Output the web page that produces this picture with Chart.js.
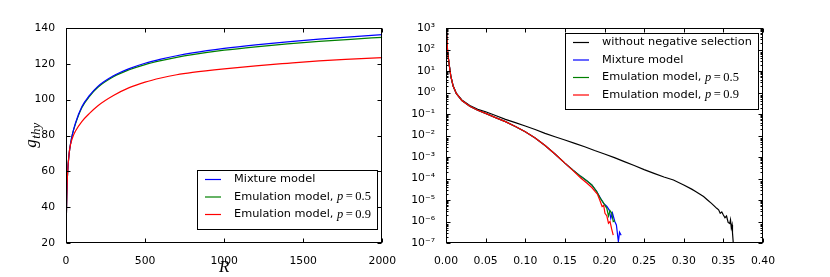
<!DOCTYPE html>
<html>
<head>
<meta charset="utf-8">
<script src="https://cdn.jsdelivr.net/npm/chart.js@4.4.1/dist/chart.umd.min.js"></script>
<style>
html, body { margin: 0; padding: 0; background: #fff; }
#wrap { position: relative; width: 830px; height: 277px; }
canvas { position: absolute; top: 0; }
</style>
</head>
<body>
<div id="wrap">
<canvas id="gChart" width="400" height="277" style="left:0"></canvas>
<canvas id="tailChart" width="430" height="277" style="left:400px"></canvas>
</div>
<script>
// left panel: g_thy against R
var rValues = [0, 5, 10, 20, 30, 40, 60, 100, 150, 200, 300, 400, 500, 600, 700, 800, 1000, 1200, 1400, 1600, 1800, 2000];
var gMixture = [25, 46, 59, 70, 76, 80.5, 87, 96, 102.5, 107.3, 113.3, 117.3, 120.3, 122.6, 124.5, 126.1, 128.6, 130.6, 132.3, 133.8, 135.1, 136.3];
var gEmul05 = [25, 46, 59, 70, 76, 80.5, 86.5, 95.5, 102, 106.8, 112.8, 116.7, 119.6, 121.8, 123.6, 125.1, 127.6, 129.5, 131.1, 132.5, 133.7, 134.8];
var gEmul09 = [25, 46, 59, 70, 75.5, 78.5, 82.5, 87.8, 92.5, 96.5, 102.3, 106.7, 109.8, 112.1, 113.9, 115.2, 117.2, 118.9, 120.3, 121.6, 122.6, 123.5];
var rTicks = [0, 500, 1000, 1500, 2000];
var gTicks = [20, 40, 60, 80, 100, 120, 140];

// right panel: tail distribution, log y
var headX = [0.0003, 0.002, 0.004, 0.006, 0.009, 0.013, 0.02, 0.03, 0.04, 0.05, 0.0625, 0.075, 0.0875, 0.10, 0.1125, 0.125, 0.1375, 0.15];
var headSel = [1500, 80, 20, 6, 2, 0.9, 0.42, 0.23, 0.15, 0.107, 0.068, 0.044, 0.026, 0.015, 0.0076, 0.0034, 0.00138, 0.00052];
var noNegX = [0.0003, 0.002, 0.004, 0.006, 0.009, 0.013, 0.02, 0.03, 0.04, 0.05, 0.0625, 0.075, 0.0875, 0.10, 0.1125, 0.125, 0.1375, 0.15, 0.1625, 0.175, 0.1875, 0.20, 0.2125, 0.225, 0.2375, 0.25, 0.2625, 0.275, 0.287, 0.30, 0.31, 0.315, 0.32, 0.325, 0.33, 0.335, 0.338, 0.3416, 0.344, 0.346, 0.348, 0.350, 0.352, 0.354, 0.356, 0.358, 0.359, 0.360, 0.361, 0.3615, 0.3625, 0.3627];
var noNegY = [1500, 80, 20, 6, 2, 0.9, 0.45, 0.25, 0.165, 0.128, 0.085, 0.0565, 0.04, 0.0277, 0.019, 0.0126, 0.0088, 0.0062, 0.0043, 0.003, 0.002, 0.00138, 9.3e-4, 6.1e-4, 4e-4, 2.6e-4, 1.74e-4, 1.17e-4, 8.5e-5, 5e-5, 3.2e-5, 2.5e-5, 1.9e-5, 1.44e-5, 1e-5, 7e-6, 5.5e-6, 4.1e-6, 3.5e-6, 2.4e-6, 2.8e-6, 2e-6, 1.5e-6, 1.8e-6, 9e-7, 8e-7, 1.2e-6, 5e-7, 7e-7, 3e-7, 1e-7, 5e-8];
var mixTailX = [0.16, 0.17, 0.178, 0.184, 0.19, 0.195, 0.199, 0.203, 0.206, 0.208, 0.210, 0.213, 0.215, 0.2175, 0.219, 0.221];
var mixTailY = [2.5e-4, 1.26e-4, 7.6e-5, 5e-5, 2.5e-5, 1.2e-5, 7e-6, 5e-6, 3.4e-6, 1.4e-6, 2.5e-6, 1e-6, 6.9e-7, 1.15e-7, 3.2e-7, 2.3e-7];
var em05TailX = [0.16, 0.17, 0.178, 0.184, 0.19, 0.195, 0.199, 0.203, 0.205, 0.207, 0.209, 0.211, 0.213];
var em05TailY = [2.5e-4, 1.26e-4, 7.6e-5, 5e-5, 2.5e-5, 1.15e-5, 7e-6, 4e-6, 1.8e-6, 3.2e-6, 2.5e-6, 1e-6, 1.1e-6];
var em09TailX = [0.16, 0.17, 0.178, 0.184, 0.188, 0.191, 0.194, 0.197, 0.199, 0.2006, 0.203, 0.205, 0.207, 0.209, 0.211];
var em09TailY = [2.4e-4, 1.05e-4, 6e-5, 3.8e-5, 2.5e-5, 1.9e-5, 1e-5, 5e-6, 5.6e-6, 2.4e-6, 1.8e-6, 8.3e-7, 1e-6, 4.5e-7, 2.3e-7];
var shareTicks = [0, 0.05, 0.10, 0.15, 0.20, 0.25, 0.30, 0.35, 0.40];
var decadeExps = [-7, -6, -5, -4, -3, -2, -1, 0, 1, 2, 3];

var tickFont = { family: 'DejaVu Sans', size: 10.8 };
var supMap = { '-': '\u207B', '0': '\u2070', '1': '\u00B9', '2': '\u00B2', '3': '\u00B3', '4': '\u2074', '5': '\u2075', '6': '\u2076', '7': '\u2077', '8': '\u2078', '9': '\u2079' };

function pairs(xs, ys) {
    return xs.map(function (x, i) { return { x: x, y: ys[i] }; });
}

function sansFont(size) { return size + 'px "DejaVu Sans"'; }
function mathFont(size, italic) { return (italic ? 'italic ' : '') + size + 'px "Liberation Serif"'; }

// box frame and inward ticks, like matplotlib classic
var frameTicks = {
    id: 'frameTicks',
    afterDraw: function (chart) {
        var ctx = chart.ctx, a = chart.chartArea;
        var xs = chart.scales.x, ys = chart.scales.y;
        var L = Math.round(a.left) + 0.5, R = Math.round(a.right) - 0.5;
        var T = Math.round(a.top) + 0.5, B = Math.round(a.bottom) - 0.5;
        ctx.save();
        ctx.strokeStyle = '#000';
        ctx.lineWidth = 1;
        ctx.beginPath();
        xs.ticks.forEach(function (t) {
            var px = Math.round(xs.getPixelForValue(t.value)) + 0.5;
            ctx.moveTo(px, B); ctx.lineTo(px, B - 4);
            ctx.moveTo(px, T); ctx.lineTo(px, T + 4);
        });
        ys.ticks.forEach(function (t) {
            var py = Math.round(ys.getPixelForValue(t.value)) + 0.5;
            ctx.moveTo(L, py); ctx.lineTo(L + 4, py);
            ctx.moveTo(R, py); ctx.lineTo(R - 4, py);
        });
        if (ys.type === 'logarithmic') {
            decadeExps.forEach(function (e) {
                for (var k = 2; k < 10; k++) {
                    var v = k * Math.pow(10, e);
                    if (v > ys.max) continue;
                    var py = Math.round(ys.getPixelForValue(v)) + 0.5;
                    ctx.moveTo(L, py); ctx.lineTo(L + 2, py);
                    ctx.moveTo(R, py); ctx.lineTo(R - 2, py);
                }
            });
        }
        ctx.stroke();
        ctx.strokeRect(L, T, R - L, B - T);
        ctx.restore();
    }
};

// legend box drawn inside the plot area
var boxLegend = {
    id: 'boxLegend',
    afterDraw: function (chart, args, opts) {
        var ctx = chart.ctx, a = chart.chartArea;
        var sets = chart.data.datasets;
        var rowH = 17.5, pad = 8, lineLen = 16, gap = 13;
        ctx.save();
        function partsWidth(label) {
            var i = label.indexOf(', p=');
            ctx.font = sansFont(11.3);
            if (i < 0) return ctx.measureText(label).width;
            var w = ctx.measureText(label.slice(0, i + 2)).width;
            ctx.font = mathFont(12.5, true);
            w += ctx.measureText('p').width + 5;
            ctx.font = mathFont(12.5, false);
            w += ctx.measureText('=').width + ctx.measureText(label.slice(i + 4)).width;
            return w;
        }
        var maxW = 0;
        sets.forEach(function (d) { maxW = Math.max(maxW, partsWidth(d.label)); });
        var w = Math.round(pad + lineLen + gap + maxW + 6);
        var h = Math.round(rowH * sets.length + 6);
        var x0 = Math.round(a.right) - 5 - w, y0;
        if (opts.corner === 'lowerRight') {
            y0 = Math.round(a.bottom) - 14 - h;
        } else {
            y0 = Math.round(a.top) + 5;
        }
        ctx.fillStyle = '#fff';
        ctx.fillRect(x0, y0, w, h);
        ctx.strokeStyle = '#000';
        ctx.lineWidth = 1;
        ctx.strokeRect(x0 + 0.5, y0 + 0.5, w, h);
        sets.forEach(function (d, i) {
            var cy = y0 + 9.5 + i * rowH;
            ctx.strokeStyle = d.borderColor;
            ctx.lineWidth = 1.2;
            ctx.beginPath();
            ctx.moveTo(x0 + pad, cy);
            ctx.lineTo(x0 + pad + lineLen, cy);
            ctx.stroke();
            var tx = x0 + pad + lineLen + gap;
            var label = d.label, k = label.indexOf(', p=');
            ctx.fillStyle = '#000';
            ctx.textBaseline = 'middle';
            ctx.textAlign = 'left';
            ctx.font = sansFont(11.3);
            var head = k < 0 ? label : label.slice(0, k + 2);
            ctx.fillText(head, tx, cy);
            if (k >= 0) {
                tx += ctx.measureText(head).width;
                ctx.font = mathFont(12.5, true);
                ctx.fillText('p', tx, cy);
                tx += ctx.measureText('p').width + 2.5;
                ctx.font = mathFont(12.5, false);
                ctx.fillText('=', tx, cy);
                tx += ctx.measureText('=').width + 2.5;
                ctx.fillText(label.slice(k + 4), tx, cy);
            }
        });
        ctx.restore();
    }
};

// axis titles for the left panel (R and g_thy with subscript)
var axisTitles = {
    id: 'axisTitles',
    afterDraw: function (chart, args, opts) {
        if (!opts.show) return;
        var ctx = chart.ctx, a = chart.chartArea;
        ctx.save();
        ctx.fillStyle = '#000';
        ctx.textAlign = 'center';
        ctx.textBaseline = 'alphabetic';
        ctx.font = mathFont(17, true);
        ctx.fillText('R', (a.left + a.right) / 2, 272);
        ctx.translate(36, (a.top + a.bottom) / 2);
        ctx.rotate(-Math.PI / 2);
        ctx.textAlign = 'left';
        ctx.font = mathFont(17, true);
        var gw = ctx.measureText('g').width;
        ctx.font = mathFont(13, true);
        var sw = ctx.measureText('thy').width;
        var sx = -(gw + sw) / 2;
        ctx.font = mathFont(17, true);
        ctx.fillText('g', sx, 0);
        ctx.font = mathFont(13, true);
        ctx.fillText('thy', sx + gw + 0.5, 4);
        ctx.restore();
    }
};

function lineSet(label, data, color, order, smooth) {
    return {
        label: label,
        data: data,
        borderColor: color,
        backgroundColor: color,
        borderWidth: 1.2,
        pointRadius: 0,
        cubicInterpolationMode: smooth ? 'monotone' : 'default',
        tension: 0,
        order: order
    };
}

var gChartElem = document.getElementById('gChart').getContext('2d');
var gChart = new Chart(gChartElem, {
    type: 'line',
    data: {
        datasets: [
            lineSet('Mixture model', pairs(rValues, gMixture), '#0000ff', 2, true),
            lineSet('Emulation model, p=0.5', pairs(rValues, gEmul05), '#008000', 3, true),
            lineSet('Emulation model, p=0.9', pairs(rValues, gEmul09), '#ff0000', 1, true)
        ]
    },
    options: {
        responsive: false,
        animation: false,
        devicePixelRatio: 1,
        layout: { padding: { top: 28, right: 17, left: 0, bottom: 0 } },
        plugins: {
            legend: { display: false },
            tooltip: { enabled: false },
            boxLegend: { corner: 'lowerRight' },
            axisTitles: { show: true }
        },
        scales: {
            x: {
                type: 'linear', min: 0, max: 2000,
                grid: { display: false }, border: { display: false },
                afterFit: function (s) { s.height = 34; },
                afterBuildTicks: function (s) { s.ticks = rTicks.map(function (v) { return { value: v }; }); },
                ticks: {
                    font: tickFont, color: '#000', padding: 4, maxRotation: 0,
                    callback: function (v) { return String(v); }
                }
            },
            y: {
                min: 20, max: 140,
                grid: { display: false }, border: { display: false },
                afterFit: function (s) { s.width = 66; },
                afterBuildTicks: function (s) { s.ticks = gTicks.map(function (v) { return { value: v }; }); },
                ticks: {
                    font: tickFont, color: '#000', padding: 3,
                    callback: function (v) { return String(v); }
                }
            }
        }
    },
    plugins: [frameTicks, boxLegend, axisTitles]
});

var tailChartElem = document.getElementById('tailChart').getContext('2d');
var tailChart = new Chart(tailChartElem, {
    type: 'line',
    data: {
        datasets: [
            lineSet('without negative selection', pairs(noNegX, noNegY), '#000000', 4, false),
            lineSet('Mixture model', pairs(headX.concat(mixTailX), headSel.concat(mixTailY)), '#0000ff', 3, false),
            lineSet('Emulation model, p=0.5', pairs(headX.concat(em05TailX), headSel.concat(em05TailY)), '#008000', 2, false),
            lineSet('Emulation model, p=0.9', pairs(headX.concat(em09TailX), headSel.concat(em09TailY)), '#ff0000', 1, false)
        ]
    },
    options: {
        responsive: false,
        animation: false,
        devicePixelRatio: 1,
        layout: { padding: { top: 28, right: 67, left: 0, bottom: 0 } },
        plugins: {
            legend: { display: false },
            tooltip: { enabled: false },
            boxLegend: { corner: 'upperRight' },
            axisTitles: { show: false }
        },
        scales: {
            x: {
                type: 'linear', min: 0, max: 0.4,
                grid: { display: false }, border: { display: false },
                afterFit: function (s) { s.height = 34; },
                afterBuildTicks: function (s) { s.ticks = shareTicks.map(function (v) { return { value: v }; }); },
                ticks: {
                    font: tickFont, color: '#000', padding: 4, maxRotation: 0,
                    callback: function (v) { return Number(v).toFixed(2); }
                }
            },
            y: {
                type: 'logarithmic', min: 1e-7, max: 1e3,
                grid: { display: false }, border: { display: false },
                afterFit: function (s) { s.width = 46; },
                afterBuildTicks: function (s) { s.ticks = decadeExps.map(function (e) { return { value: Math.pow(10, e) }; }); },
                ticks: {
                    font: tickFont, color: '#000', padding: 3,
                    callback: function (v) {
                        var e = String(Math.round(Math.log10(v)));
                        return '10' + e.split('').map(function (c) { return supMap[c]; }).join('');
                    }
                }
            }
        }
    },
    plugins: [frameTicks, boxLegend]
});
</script>
</body>
</html>
